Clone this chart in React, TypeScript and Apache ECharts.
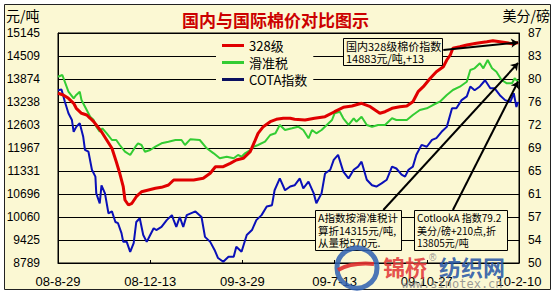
import React, { useEffect, useRef } from 'react';
import * as echarts from 'echarts';

// x axis: days counted from 2008-08-29
const xTickDays = [0, 106, 212, 318, 424, 530];
const xTickLabels = ['08-8-29', '08-12-13', '09-3-29', '09-7-13', '09-10-27', '10-2-10'];
// left axis (元/吨) and right axis (美分/磅) tick positions
const leftTicks = [8789, 9424.6, 10060.2, 10695.8, 11331.4, 11967, 12602.6, 13238.2, 13873.8, 14509.4, 15145];
const rightTicks = [50, 53.7, 57.4, 61.1, 64.8, 68.5, 72.2, 75.9, 79.6, 83.3, 87];

const redDays = [0,6,12,18,21,27,33,37,41,44,50,56,62,67,71,75,77,81,85,90,96,104,112,119,127,133,144,156,167,175,181,190,198,205,213,221,226,230,236,244,251,259,267,272,284,295,307,318,328,338,349,359,370,376,384,393,401,408,414,420,428,435,443,447,451,454,462,470,481,493,500,508,516,523,529];
const redValues = [13479,13432,13340,13202,13064,12926,12879,12788,12694,12603,12417,12188,11959,11588,11268,10897,10530,10392,10439,10621,10759,10806,10853,10881,10945,11083,11083,11083,11130,11268,11450,11450,11544,11635,11682,11865,12141,12373,12556,12694,12760,12788,12788,12760,12741,12788,12832,12970,13092,13128,13202,13108,12926,12970,13064,13108,13128,13246,13523,13661,13893,14075,14214,14399,14537,14722,14766,14813,14860,14905,14932,14905,14877,14841,14883];

const greenDays = [0,5,12,18,21,25,27,33,37,41,44,48,51,56,62,67,71,77,83,89,92,96,100,106,112,119,127,135,142,146,152,163,171,179,186,194,202,207,211,215,221,225,230,238,244,250,255,261,269,276,282,288,292,297,303,309,315,318,324,328,334,340,343,349,355,361,368,376,384,389,395,401,408,416,424,431,439,447,454,462,470,474,479,485,489,494,499,504,510,516,522,525,529];
const greenValues = [13937,13984,13523,13340,13432,13523,13294,13017,12832,12741,12556,12417,12511,12373,12188,12188,12050,11865,11773,12003,12097,12050,11865,11912,12003,12097,12141,12188,12188,12050,12207,12188,11959,11820,11682,11727,11682,11773,11727,11820,11912,12003,12050,12141,12326,12373,12603,12464,12511,12556,12464,12235,12464,12373,12464,12603,12741,12926,12970,12788,12603,12788,12694,12832,12603,12556,12603,12603,12788,12741,12741,12741,12879,13017,13064,13155,13246,13432,13570,13661,13799,14122,14169,14308,14169,14399,14169,14075,13846,13755,13755,13893,13799];

const blueDays = [0,4,8,12,16,18,21,25,29,31,35,39,43,44,48,50,54,58,62,66,69,73,75,79,83,87,90,94,98,102,106,110,113,119,125,131,133,136,140,144,148,158,165,169,175,180,184,190,196,202,205,211,217,223,228,234,240,246,249,255,261,267,272,278,282,288,294,297,303,307,313,317,322,328,334,340,345,349,355,361,366,372,378,384,389,395,399,403,408,412,418,424,430,435,441,447,453,458,464,470,474,479,485,491,497,502,508,514,520,524,527,529];
const blueValues = [77.8,77.9,75.9,74.1,73.0,71.1,71.9,72.5,70.3,68.2,67.9,65.0,63.9,61.2,59.6,62.5,61.2,58.0,58.3,56.6,56.4,54.8,53.4,53.4,51.8,53.2,56.6,57.2,54.5,53.4,54.5,55.6,55.3,55.8,56.9,57.7,56.9,55.8,57.4,55.8,57.7,58.3,57.4,54.2,53.4,52.1,50.8,50.2,51.0,51.0,52.6,51.8,54.5,55.3,56.9,57.7,59.1,59.3,61.7,63.6,61.7,62.3,62.5,63.6,62.0,63.1,61.2,59.6,61.2,64.4,65.0,66.6,67.4,64.7,63.6,65.0,65.5,66.3,63.4,62.5,62.3,62.8,63.4,65.5,65.2,64.2,63.9,65.0,65.5,67.4,69.0,68.7,69.8,70.1,71.1,71.9,74.9,74.9,76.2,76.8,78.4,77.8,78.4,79.4,78.1,78.1,77.0,76.2,75.9,77.3,75.1,75.9];

const seriesNames = ['328级', '滑准税', 'COTA指数'];
// annotation arrows: [start day, start value] -> [end day, end value] (元/吨)
const arrowStarts = [[443, 14675], [374, 10254], [454, 10254]];
const arrowEnds = [[529, 14883], [529, 14315], [529, 13805]];

const box1Lines = ['国内328级棉价指数', '14883元/吨,+13'];
const box2Lines = ['A指数按滑准税计', '算折14315元/吨,', '从量税570元.'];
const box3Lines = ['CotlookA 指数79.2', '美分/磅+210点,折', '13805元/吨'];

const BG = '#fbf8d3';
const CJK = '"Noto Sans CJK SC", "Liberation Sans", sans-serif';
const LAT = '"Liberation Sans", Arial, sans-serif';

const zip = (a: number[], b: number[]) => a.map((d, i) => [d, b[i]]);

function boxElements(x: number, y: number, w: number, h: number, lines: string[], fs: number, lh: number) {
  const els: any[] = [
    { type: 'rect', z: 100, shape: { x: x + 0.5, y: y + 0.5, width: w, height: h }, style: { fill: BG, stroke: '#000', lineWidth: 1 } },
  ];
  lines.forEach((t, i) => {
    els.push({
      type: 'text', z: 101, x: x + 3, y: y + 7.5 + i * lh,
      style: { text: t, fontSize: fs, fontFamily: CJK, fill: '#000', verticalAlign: 'middle' },
    });
  });
  return els;
}

export default function App() {
  const ref = useRef<HTMLDivElement>(null);
  useEffect(() => {
    const chart = echarts.init(ref.current!, null, { renderer: 'svg' });
    const option: any = {
      animation: false,
      backgroundColor: '#ffffff',
      title: {
        text: '国内与国际棉价对比图示', left: 182, top: 11, padding: 0,
        textStyle: { fontSize: 17, fontWeight: 'bold', color: '#cc0000', fontFamily: CJK },
      },
      legend: {
        data: seriesNames, orient: 'vertical', left: 216, top: 36,
        padding: [3, 6, 3, 6], itemGap: 4, itemWidth: 22, itemHeight: 3, icon: 'rect',
        backgroundColor: BG,
        textStyle: { fontSize: 13, color: '#000', fontFamily: CJK },
      },
      grid: {
        left: 58, top: 33, width: 461, height: 230, show: true,
        backgroundColor: BG, borderColor: '#000', borderWidth: 1,
      },
      xAxis: {
        type: 'value', min: 0, max: 530,
        axisLine: { show: true, lineStyle: { color: '#000' } },
        axisTick: { show: true, inside: true, length: 3, customValues: xTickDays, lineStyle: { color: '#000' } },
        splitLine: { show: false },
        axisLabel: {
          customValues: xTickDays, margin: 12, fontSize: 13, color: '#000', fontFamily: LAT,
          formatter: (v: number) => xTickLabels[xTickDays.indexOf(v)] ?? '',
        },
      },
      yAxis: [
        {
          type: 'value', position: 'left', min: 8789, max: 15145,
          axisLine: { show: true, lineStyle: { color: '#000' } },
          axisTick: { show: false, customValues: leftTicks },
          splitLine: { show: true, lineStyle: { color: '#000', width: 1 } },
          axisLabel: {
            customValues: leftTicks, margin: 18, fontSize: 12, color: '#000', fontFamily: LAT,
            formatter: (v: number) => String(Math.round(v)),
          },
        },
        {
          type: 'value', position: 'right', min: 50, max: 87,
          axisLine: { show: true, lineStyle: { color: '#000' } },
          axisTick: { show: false, customValues: rightTicks },
          splitLine: { show: false },
          axisLabel: {
            customValues: rightTicks, margin: 9, fontSize: 12, color: '#000', fontFamily: LAT,
            formatter: (v: number) => String(Math.round(v + 1e-6)),
          },
        },
      ],
      series: [
        {
          name: seriesNames[1], type: 'line', yAxisIndex: 0, data: zip(greenDays, greenValues),
          symbol: 'none', lineStyle: { color: '#33cc33', width: 2 }, itemStyle: { color: '#33cc33' }, z: 2,
        },
        {
          name: seriesNames[2], type: 'line', yAxisIndex: 1, data: zip(blueDays, blueValues),
          symbol: 'none', lineStyle: { color: '#0a10b8', width: 2 }, itemStyle: { color: '#0a1060' }, z: 3,
        },
        {
          name: seriesNames[0], type: 'line', yAxisIndex: 0, data: zip(redDays, redValues),
          symbol: 'none', lineStyle: { color: '#e00000', width: 3 }, itemStyle: { color: '#e00000' }, z: 4,
          markLine: {
            silent: true, symbol: ['none', 'arrow'], symbolSize: 7, animation: false,
            label: { show: false },
            lineStyle: { color: '#000', width: 2, type: 'solid' },
            emphasis: { disabled: true },
            data: arrowStarts.map((s, i) => [{ coord: s }, { coord: arrowEnds[i] }]),
          },
        },
      ],
      graphic: [
        { type: 'rect', z: -100, shape: { x: 4.5, y: 4.5, width: 546, height: 285 }, style: { fill: BG, stroke: '#222', lineWidth: 1 } },
        { type: 'text', x: 6, y: 15, style: { text: '元/吨', fontSize: 14, fontFamily: CJK, fill: '#000', verticalAlign: 'middle' } },
        { type: 'text', x: 550, y: 15, style: { text: '美分/磅', fontSize: 14, fontFamily: CJK, fill: '#000', align: 'right', verticalAlign: 'middle' } },
        ...boxElements(343, 38, 99, 27, box1Lines, 11, 12.5),
        ...boxElements(315, 210, 86, 40, box2Lines, 10.5, 12.5),
        ...boxElements(414, 210, 93, 40, box3Lines, 10, 12.5),
        // watermark
        { type: 'circle', z: 120, shape: { cx: 357, cy: 268, r: 20 }, style: { fill: 'none', stroke: '#2d5fb0', lineWidth: 5, opacity: 0.85 } },
        { type: 'bezierCurve', z: 121, shape: { x1: 338, y1: 270, x2: 374, y2: 264, cpx1: 352, cpy1: 262 }, style: { fill: 'none', stroke: '#e03030', lineWidth: 4, opacity: 0.9 } },
        { type: 'text', z: 121, x: 383, y: 266, style: { text: '锦桥', fontSize: 22, fontWeight: 'bold', fontFamily: CJK, fill: '#e23a3a', verticalAlign: 'middle', opacity: 0.9 } },
        { type: 'text', z: 121, x: 429, y: 257, style: { text: '®', fontSize: 10, fontFamily: LAT, fill: '#888', verticalAlign: 'middle', opacity: 0.9 } },
        { type: 'text', z: 121, x: 439, y: 266, style: { text: '纺织网', fontSize: 22, fontWeight: 'bold', fontFamily: CJK, fill: '#2b5aa8', verticalAlign: 'middle', opacity: 0.9 } },
        { type: 'text', z: 121, x: 452, y: 284, style: { text: 'www.sinotex.cn', fontSize: 12, fontFamily: '"DejaVu Sans Mono", monospace', fill: '#8a8a8a', align: 'center', verticalAlign: 'middle', opacity: 0.85 } },
      ],
    };
    chart.setOption(option);
    return () => chart.dispose();
  }, []);
  return <div ref={ref} style={{ position: 'absolute', left: 0, top: 0, width: 555, height: 296 }} />;
}
